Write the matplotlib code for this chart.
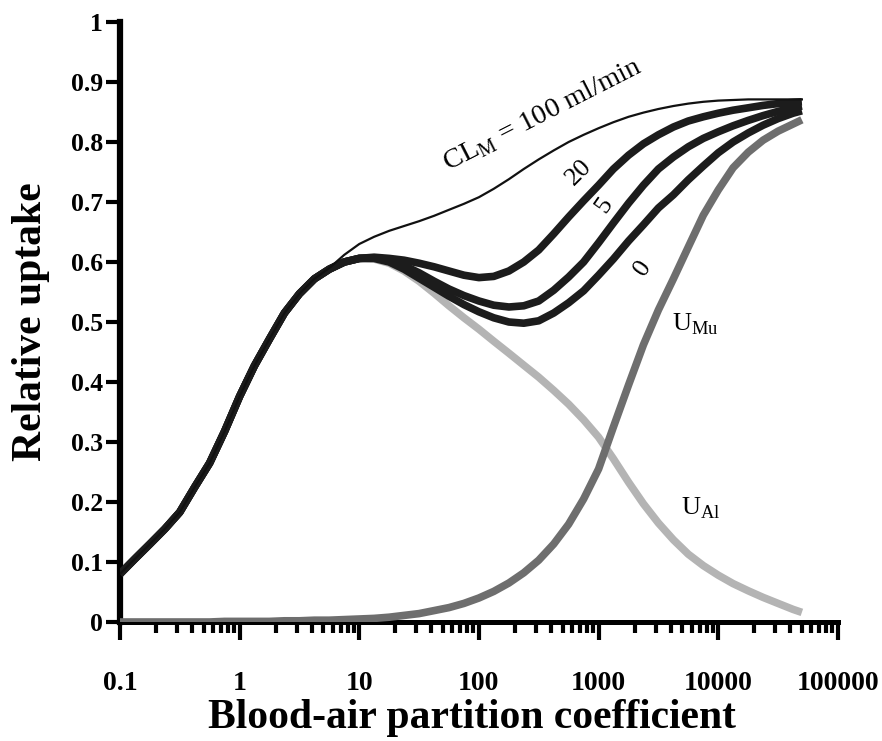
"""
plot.py

Relative uptake versus blood-air partition coefficient for several
mucosal clearance values (CL_M), with alveolar (U_Al) and mucosal (U_Mu)
uptake components.

Output:
    - out.png
"""

import matplotlib
matplotlib.use("Agg")
import matplotlib.pyplot as plt
from matplotlib.ticker import FixedLocator, LogLocator, NullFormatter

plt.rcParams["font.family"] = ["Liberation Serif", "DejaVu Serif"]
plt.rcParams["mathtext.fontset"] = "custom"
plt.rcParams["mathtext.rm"] = "Liberation Serif"

# Blood-air partition coefficient (eighth-decade steps)
partition = [0.1, 0.133, 0.178, 0.237, 0.316, 0.422, 0.562, 0.75,
             1, 1.33, 1.78, 2.37, 3.16, 4.22, 5.62, 7.5,
             10, 13.3, 17.8, 23.7, 31.6, 42.2, 56.2, 75,
             100, 133, 178, 237, 316, 422, 562, 750,
             1000, 1330, 1780, 2370, 3160, 4220, 5620, 7500,
             10000, 13300, 17800, 23700, 31600, 42200, 50000]

# Total uptake for each mucosal clearance CL_M (ml/min)
uptake_cl100 = [0.08, 0.105, 0.13, 0.155, 0.183, 0.225, 0.265, 0.318,
                0.376, 0.427, 0.472, 0.515, 0.547, 0.572, 0.59, 0.612,
                0.630, 0.642, 0.652, 0.66, 0.668, 0.677, 0.687, 0.697,
                0.708, 0.722, 0.738, 0.755, 0.771, 0.786, 0.80, 0.812,
                0.823, 0.833, 0.842, 0.849, 0.855, 0.86, 0.864, 0.867,
                0.869, 0.870, 0.871, 0.871, 0.871, 0.871, 0.871]
uptake_cl20 = [0.08, 0.105, 0.13, 0.155, 0.183, 0.225, 0.265, 0.318,
               0.376, 0.427, 0.472, 0.515, 0.547, 0.572, 0.588, 0.600,
               0.606, 0.608, 0.606, 0.603, 0.598, 0.592, 0.585, 0.578,
               0.574, 0.576, 0.585, 0.60, 0.62, 0.647, 0.675, 0.702,
               0.728, 0.755, 0.778, 0.797, 0.812, 0.825, 0.835, 0.842,
               0.848, 0.853, 0.857, 0.861, 0.864, 0.866, 0.867]
uptake_cl5 = [0.08, 0.105, 0.13, 0.155, 0.183, 0.225, 0.265, 0.318,
              0.376, 0.427, 0.472, 0.515, 0.547, 0.572, 0.588, 0.600,
              0.606, 0.607, 0.603, 0.594, 0.582, 0.568, 0.555, 0.544,
              0.535, 0.528, 0.525, 0.527, 0.535, 0.553, 0.575, 0.60,
              0.632, 0.665, 0.698, 0.728, 0.755, 0.775, 0.792, 0.806,
              0.817, 0.827, 0.836, 0.844, 0.851, 0.857, 0.86]
uptake_cl0 = [0.08, 0.105, 0.13, 0.155, 0.183, 0.225, 0.265, 0.318,
              0.376, 0.427, 0.472, 0.515, 0.547, 0.572, 0.588, 0.600,
              0.606, 0.606, 0.600, 0.588, 0.573, 0.558, 0.543, 0.529,
              0.517, 0.507, 0.50, 0.498, 0.502, 0.515, 0.532, 0.552,
              0.578, 0.605, 0.635, 0.662, 0.69, 0.712, 0.737, 0.76,
              0.782, 0.80, 0.815, 0.828, 0.839, 0.848, 0.852]

# Uptake components
u_alveolar = [0.08, 0.105, 0.13, 0.155, 0.183, 0.225, 0.265, 0.318,
              0.376, 0.427, 0.472, 0.515, 0.547, 0.572, 0.588, 0.600,
              0.606, 0.605, 0.598, 0.585, 0.568, 0.548, 0.527, 0.507,
              0.488, 0.468, 0.448, 0.428, 0.408, 0.386, 0.363, 0.337,
              0.308, 0.272, 0.233, 0.197, 0.165, 0.137, 0.113, 0.094,
              0.078, 0.064, 0.052, 0.041, 0.031, 0.021, 0.016]
u_mucosal = [0.0, 0.0, 0.0, 0.0, 0.0, 0.0, 0.0, 0.001,
             0.001, 0.001, 0.001, 0.002, 0.002, 0.003, 0.003, 0.004,
             0.005, 0.006, 0.008, 0.011, 0.014, 0.019, 0.024, 0.031,
             0.04, 0.051, 0.065, 0.082, 0.103, 0.13, 0.163, 0.205,
             0.255, 0.325, 0.395, 0.462, 0.52, 0.572, 0.625, 0.678,
             0.72, 0.757, 0.783, 0.803, 0.818, 0.83, 0.837]

x_ticks = [0.1, 1, 10, 100, 1000, 10000, 100000]
x_tick_labels = ["0.1", "1", "10", "100", "1000", "10000", "100000"]
y_ticks = [0, 0.1, 0.2, 0.3, 0.4, 0.5, 0.6, 0.7, 0.8, 0.9, 1]
y_tick_labels = ["0", "0.1", "0.2", "0.3", "0.4", "0.5", "0.6", "0.7", "0.8", "0.9", "1"]


def make_plot():
    fig = plt.figure(figsize=(8.82, 7.41), dpi=100)
    ax = fig.add_axes([0.136, 0.1606, 0.814, 0.8097])

    thick = dict(lw=5.5, solid_capstyle="butt", solid_joinstyle="round")
    # components first, total curves drawn over them
    ax.plot(partition, u_alveolar, color="#b4b4b4", zorder=2, **thick)
    ax.plot(partition, u_mucosal, color="#6e6e6e", zorder=3, **thick)
    for series in (uptake_cl0, uptake_cl5, uptake_cl20):
        ax.plot(partition, series, color="#1c1c1c", zorder=4, **thick)
    ax.plot(partition, uptake_cl100, color="#111111", lw=1.6,
            solid_joinstyle="round", zorder=5)

    ax.set_xscale("log")
    ax.set_xlim(0.1, 100000)
    ax.set_ylim(0, 1)

    ax.xaxis.set_major_locator(FixedLocator(x_ticks))
    ax.set_xticklabels(x_tick_labels)
    ax.xaxis.set_minor_locator(LogLocator(base=10, subs=range(2, 10)))
    ax.xaxis.set_minor_formatter(NullFormatter())
    ax.set_yticks(y_ticks)
    ax.set_yticklabels(y_tick_labels)

    for side in ("top", "right"):
        ax.spines[side].set_visible(False)
    ax.spines["left"].set_linewidth(4.5)
    ax.spines["bottom"].set_linewidth(3.6)

    ax.tick_params(axis="x", which="major", direction="out", length=13, width=3.0,
                   pad=22, labelsize=20)
    ax.tick_params(axis="x", which="minor", direction="out", length=8, width=3.0)
    ax.tick_params(axis="y", which="major", direction="out", length=10, width=3.0,
                   pad=2, labelsize=18.5)
    for lab in ax.get_xticklabels() + ax.get_yticklabels():
        lab.set_fontweight("bold")

    ax.set_xlabel("Blood-air partition coefficient", fontsize=30, fontweight="bold")
    ax.xaxis.set_label_coords(0.49, -0.128)
    ax.set_ylabel("Relative uptake", fontsize=30, fontweight="bold", labelpad=15)

    # curve labels
    ax.text(3.4e2, 0.845, r"CL$_\mathregular{M}$ = 100 ml/min", fontsize=20.5,
            rotation=27, ha="center", va="center")
    ax.text(680, 0.75, "20", fontsize=19, rotation=45, ha="center", va="center")
    ax.text(1120, 0.695, "5", fontsize=19, rotation=55, ha="center", va="center")
    ax.text(2350, 0.59, "0", fontsize=19, rotation=55, ha="center", va="center")
    ax.text(4100, 0.497, r"U$_\mathregular{Mu}$", fontsize=19, ha="left", va="center")
    ax.text(4900, 0.19, r"U$_\mathregular{Al}$", fontsize=19, ha="left", va="center")

    fig.savefig("out.png", dpi=100)
    plt.close(fig)


if __name__ == "__main__":
    make_plot()
